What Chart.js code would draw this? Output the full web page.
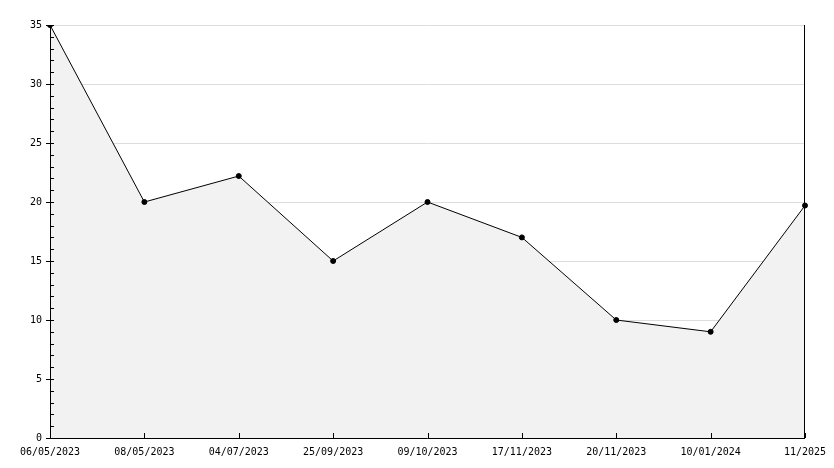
<!DOCTYPE html>
<html><head><meta charset="utf-8">
<script src="https://cdn.jsdelivr.net/npm/chart.js@4"></script>
<style>html,body{margin:0;background:#fff}</style>
</head><body><canvas id="c" width="834" height="468"></canvas>
<script>
const categories=["06/05/2023","08/05/2023","04/07/2023","25/09/2023","09/10/2023","17/11/2023","20/11/2023","10/01/2024","11/2025"];
const values=[35,20,22.2,15,20,17,10,9,19.7];
const yTicks=[0,5,10,15,20,25,30,35];
const font={family:"DejaVu Sans Mono",size:10};
const minor={id:'minor',afterDraw(ch){
 const ctx=ch.ctx,y=ch.scales.y,x=ch.scales.x,a=ch.chartArea;
 ctx.save();ctx.strokeStyle='#000';ctx.lineWidth=1;ctx.beginPath();
 for(let v=0;v<=35;v++){const p=Math.round(y.getPixelForValue(v))+0.5;const big=v%5===0;
  ctx.moveTo(a.left-(big?4:0),p);ctx.lineTo(a.left+4,p);}
 categories.forEach((c,i)=>{const p=Math.round(x.getPixelForValue(i))+0.5;ctx.moveTo(p,a.bottom);ctx.lineTo(p,a.bottom-5);});
 ctx.moveTo(a.left+0.5,a.top);ctx.lineTo(a.left+0.5,a.bottom+0.5);ctx.lineTo(a.right,a.bottom+0.5);
 ctx.moveTo(a.right-0.5,a.top);ctx.lineTo(a.right-0.5,a.bottom);
 ctx.stroke();ctx.restore();}};
new Chart(document.getElementById('c'),{type:'line',
 data:{labels:categories,datasets:[{data:values,borderColor:'#000',borderWidth:1,backgroundColor:'#f2f2f2',fill:'origin',
  pointRadius:2.5,pointBackgroundColor:'#000',pointBorderColor:'#000',tension:0}]},
 options:{responsive:false,animation:false,events:[],
  layout:{padding:{top:25,right:29,bottom:10,left:10}},
  plugins:{legend:{display:false},tooltip:{enabled:false}},
  scales:{
   x:{type:'category',offset:false,grid:{display:false},border:{display:false},
      ticks:{color:'#000',font,maxRotation:0,autoSkip:false,padding:0}},
   y:{min:0,max:35,afterBuildTicks:s=>{s.ticks=yTicks.map(v=>({value:v}))},
      afterFit:s=>{s.width=40},
      grid:{color:'#dddddd',drawTicks:false},border:{display:false},
      ticks:{color:'#000',font,padding:8}}}},
 plugins:[minor]});
</script></body></html>
